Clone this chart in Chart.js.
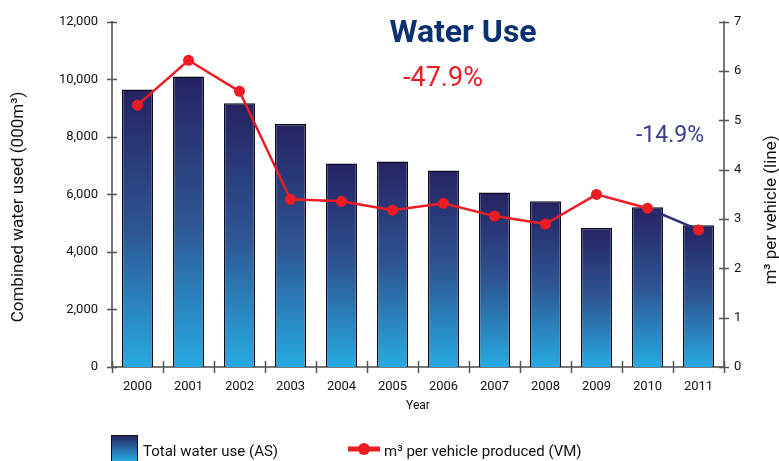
<!DOCTYPE html>
<html>
<head>
<meta charset="utf-8">
<script src="https://cdn.jsdelivr.net/npm/chart.js@4"></script>
<style>
  html, body { margin: 0; padding: 0; background: #fff; }
  #wrap { width: 779px; height: 461px; }
</style>
</head>
<body>
<div id="wrap"><canvas id="waterChart"></canvas></div>
<script>
const years = ["2000","2001","2002","2003","2004","2005","2006","2007","2008","2009","2010","2011"];
const totalWater = [9650,10100,9170,8450,7070,7140,6830,6070,5760,4830,5550,4930];
const perVehicle = [5.31,6.22,5.59,3.40,3.36,3.18,3.32,3.06,2.90,3.50,3.22,2.78];
const leftTicks = [0,2000,4000,6000,8000,10000,12000];
const rightTicks = [0,1,2,3,4,5,6,7];

const FONT = "Roboto, 'DejaVu Sans', sans-serif";
const DARK = "#262262";
const LIGHT = "#27aae1";
const RED = "#ed1c24";

function barGradient(ctx) {
  const chart = ctx.chart;
  const y = chart.scales.y;
  if (!y || ctx.dataIndex === undefined) return DARK;
  const top = y.getPixelForValue(totalWater[ctx.dataIndex]);
  const base = y.getPixelForValue(0);
  if (!isFinite(top) || !isFinite(base) || top === base) return DARK;
  const g = chart.ctx.createLinearGradient(0, top, 0, base);
  g.addColorStop(0, DARK);
  g.addColorStop(0.5, "#2d5592");
  g.addColorStop(1, LIGHT);
  return g;
}

function vText(c, text, x, y) {
  c.save();
  c.translate(x, y);
  c.rotate(-Math.PI / 2);
  c.textAlign = "center";
  c.textBaseline = "middle";
  c.fillText(text, 0, 0);
  c.restore();
}

// tick marks crossing the axis lines, titles and legend
const decor = {
  id: "decor",
  afterDraw(chart) {
    const c = chart.ctx;
    const a = chart.chartArea;
    const y = chart.scales.y, y1 = chart.scales.y1;
    c.save();
    c.strokeStyle = "#555";
    c.lineWidth = 1.5;
    c.beginPath();
    leftTicks.forEach(v => {
      const py = Math.round(y.getPixelForValue(v)) + 0.5;
      c.moveTo(a.left - 5, py); c.lineTo(a.left + 5, py);
    });
    rightTicks.forEach(v => {
      const py = Math.round(y1.getPixelForValue(v)) + 0.5;
      c.moveTo(a.right - 5, py); c.lineTo(a.right + 5, py);
    });
    const step = (a.right - a.left) / years.length;
    for (let i = 0; i <= years.length; i++) {
      const px = Math.round(a.left + i * step) + 0.5;
      c.moveTo(px, a.bottom - 6); c.lineTo(px, a.bottom + 6);
    }
    c.stroke();

    // axis titles, both reading bottom to top
    c.fillStyle = "#111";
    c.font = "17px " + FONT;
    vText(c, "Combined water used (000m\u00b3)", 19, 207);
    vText(c, "m\u00b3 per vehicle (line)", 772, 210);

    c.textAlign = "center";
    c.textBaseline = "alphabetic";
    c.fillStyle = "#0b3170";
    c.font = "bold 32px " + FONT;
    c.fillText("Water Use", 463, 42);
    c.fillStyle = RED;
    c.font = "27px " + FONT;
    c.fillText("-47.9%", 443, 86);
    c.fillStyle = "#3a3b8c";
    c.font = "23px " + FONT;
    c.fillText("-14.9%", 670, 142);

    // legend
    const g = c.createLinearGradient(0, 435, 0, 461);
    g.addColorStop(0, DARK); g.addColorStop(1, LIGHT);
    c.fillStyle = g;
    c.fillRect(111, 435, 27, 26);
    c.strokeStyle = "#111"; c.lineWidth = 1;
    c.strokeRect(111.5, 435.5, 26, 26);
    c.textAlign = "left";
    c.fillStyle = "#111";
    c.font = "15px " + FONT;
    c.fillText("Total water use (AS)", 143, 456);
    c.strokeStyle = RED; c.lineWidth = 5;
    c.beginPath(); c.moveTo(348, 449); c.lineTo(380, 449); c.stroke();
    c.fillStyle = RED;
    c.beginPath(); c.arc(364, 449, 6, 0, Math.PI * 2); c.fill();
    c.fillStyle = "#111";
    c.fillText("m\u00b3 per vehicle produced (VM)", 384, 456);
    c.restore();
  }
};

new Chart(document.getElementById("waterChart"), {
  type: "bar",
  data: {
    labels: years,
    datasets: [{
      type: "line",
      label: "m\u00b3 per vehicle produced (VM)",
      data: perVehicle,
      yAxisID: "y1",
      borderColor: RED,
      borderWidth: 2.5,
      pointRadius: 5.5,
      pointBackgroundColor: RED,
      pointBorderWidth: 0,
      segment: {
        borderColor: ctx => ctx.p0DataIndex === 10 ? "#2b2d72" : RED
      },
      order: 1
    }, {
      label: "Total water use (AS)",
      data: totalWater,
      yAxisID: "y",
      backgroundColor: barGradient,
      borderColor: "#0a0a20",
      borderWidth: 1.5,
      borderSkipped: "bottom",
      barPercentage: 0.61,
      categoryPercentage: 1,
      order: 2
    }]
  },
  options: {
    responsive: true,
    maintainAspectRatio: false,
    animation: false,
    layout: { padding: { top: 19, bottom: 44 } },
    plugins: { legend: { display: false }, tooltip: { enabled: false } },
    scales: {
      x: {
        grid: { display: false, drawTicks: false },
        border: { display: true, color: "#777", width: 2 },
        ticks: { color: "#111", font: { family: FONT, size: 13 }, padding: 12, maxRotation: 0 },
        title: { display: true, text: "Year", color: "#111", font: { family: FONT, size: 12 }, padding: { top: 2 } },
        afterFit: s => { s.height = 50; }
      },
      y: {
        position: "left",
        min: 0, max: 12000,
        afterBuildTicks: s => { s.ticks = leftTicks.map(v => ({ value: v })); },
        grid: { display: false, drawTicks: false },
        border: { display: true, color: "#777", width: 2 },
        ticks: {
          color: "#111", font: { family: FONT, size: 13 }, padding: 14,
          callback: v => v.toLocaleString("en-US")
        },
        afterFit: s => { s.width = 112; }
      },
      y1: {
        position: "right",
        min: 0, max: 7,
        afterBuildTicks: s => { s.ticks = rightTicks.map(v => ({ value: v })); },
        grid: { display: false, drawTicks: false },
        border: { display: true, color: "#777", width: 2 },
        ticks: { color: "#111", font: { family: FONT, size: 13 }, padding: 10 },
        afterFit: s => { s.width = 55; }
      }
    }
  },
  plugins: [decor]
});
</script>
</body>
</html>
